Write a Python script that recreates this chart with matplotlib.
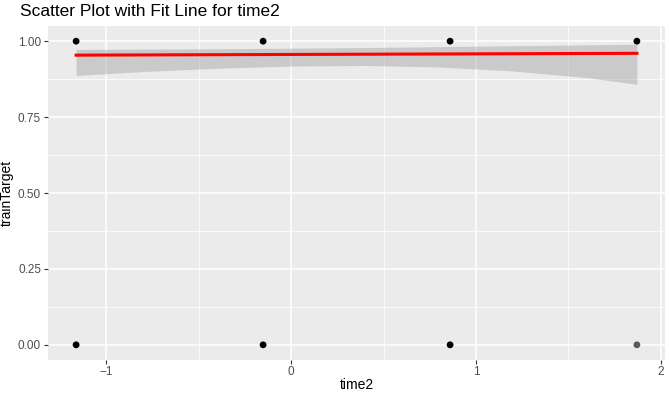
import numpy as np
import matplotlib
matplotlib.use("Agg")
from matplotlib import pyplot as plt

# data
pt_x = [-1.162, -0.151, 0.86, 1.87, -1.162, -0.151, 0.86, 1.87]
pt_y = [1, 1, 1, 1, 0, 0, 0, 0]
pt_col = ["black"] * 7 + ["#5a5a5a"]

fit_x = [-1.162, 1.87]
fit_y = [0.954, 0.960]

band_x = [-1.162, -0.8, -0.4, 0.0, 0.4, 0.8, 1.2, 1.6, 1.87]
band_hi = [0.973, 0.974, 0.975, 0.977, 0.979, 0.982, 0.985, 0.988, 0.990]
band_lo = [0.887, 0.900, 0.911, 0.918, 0.920, 0.915, 0.902, 0.880, 0.858]

plt.rcParams['font.family'] = ['Liberation Sans', 'DejaVu Sans']

fig = plt.figure(figsize=(6.69, 3.95), dpi=100)
ax = fig.add_axes([48 / 669, 1 - 360 / 395, 617 / 669, 334 / 395])
ax.set_facecolor("#EBEBEB")
for s in ax.spines.values():
    s.set_visible(False)

ax.set_xlim(-1.314, 2.022)
ax.set_ylim(-0.05, 1.05)
ax.set_xticks([-1, 0, 1, 2])
ax.set_yticks([0, 0.25, 0.5, 0.75, 1.0])
ax.set_yticklabels(["0.00", "0.25", "0.50", "0.75", "1.00"])
ax.set_xticks([-0.5, 0.5, 1.5], minor=True)
ax.set_yticks([0.125, 0.375, 0.625, 0.875], minor=True)
ax.grid(which="major", color="white", linewidth=1.1)
ax.grid(which="minor", color="white", linewidth=0.55)
ax.set_axisbelow(True)
ax.tick_params(which="major", length=3, color="#333333", labelcolor="#4D4D4D", labelsize=8.5, pad=2)
ax.tick_params(axis="x", pad=1)
ax.tick_params(which="minor", length=0)

ax.fill_between(band_x, band_lo, band_hi, color="#999999", alpha=0.4, linewidth=0, zorder=2)
ax.plot(fit_x, fit_y, color="red", linewidth=2.2, zorder=3)
ax.scatter(pt_x, pt_y, c=pt_col, s=24, zorder=4, linewidths=0)

ax.set_xlabel("time2", fontsize=10, labelpad=0)
ax.set_ylabel("trainTarget", fontsize=10, labelpad=3)
fig.text(20 / 669, 1 - 12 / 395, "Scatter Plot with Fit Line for time2", fontsize=12.5, va="center", ha="left")

fig.savefig("out.png", dpi=100)
